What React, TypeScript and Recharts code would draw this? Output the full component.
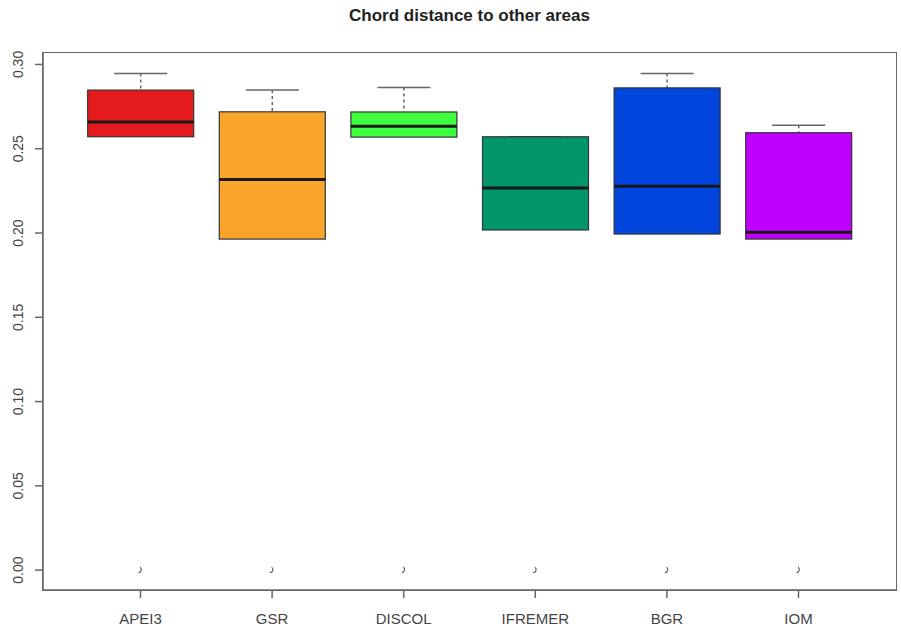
import * as React from 'react';
import {
  Bar,
  ComposedChart,
  Scatter,
  XAxis,
  YAxis,
} from 'recharts';

const categories = ['APEI3', 'GSR', 'DISCOL', 'IFREMER', 'BGR', 'IOM'];
const lowerWhisker = [0.2571, 0.1964, 0.2569, 0.2018, 0.1994, 0.1964];
const q1 = [0.2571, 0.1964, 0.2569, 0.2018, 0.1994, 0.1964];
const median = [0.2658, 0.2318, 0.2634, 0.2267, 0.2277, 0.2004];
const q3 = [0.2848, 0.2719, 0.2718, 0.2571, 0.2861, 0.2595];
const upperWhisker = [0.2947, 0.2848, 0.2864, 0.2571, 0.2947, 0.264];
const outliers = [0, 0, 0, 0, 0, 0];
const boxColors = ['#e41a1c', '#f9a42c', '#3dff3d', '#00966a', '#0046dc', '#c000ff'];
const yTicks = [0, 0.05, 0.1, 0.15, 0.2, 0.25, 0.3];

const FONT = '"Liberation Sans", Arial, Helvetica, sans-serif';
const AXIS = '#666';

const data = categories.map((name, i) => ({
  name,
  lower: lowerWhisker[i],
  q1: q1[i],
  median: median[i],
  q3: q3[i],
  upper: upperWhisker[i],
  outlier: outliers[i],
  color: boxColors[i],
}));

function BoxShape(props: any) {
  const { x, y, width, height, payload } = props;
  if (height == null || !payload) return null;
  const span = payload.q3 - payload.q1;
  const ppu = span > 0 ? height / span : 0;
  const cx = x + width / 2;
  const capHalf = width / 4;
  const medY = y + (payload.q3 - payload.median) * ppu;
  const topY = y - (payload.upper - payload.q3) * ppu;
  const botY = y + height + (payload.q1 - payload.lower) * ppu;
  return (
    <g>
      {topY < y && (
        <line x1={cx} x2={cx} y1={topY} y2={y} stroke={AXIS} strokeWidth={1.5} strokeDasharray="3 3" />
      )}
      <line x1={cx - capHalf} x2={cx + capHalf} y1={topY} y2={topY} stroke={AXIS} strokeWidth={1.5} />
      {botY > y + height && (
        <>
          <line x1={cx} x2={cx} y1={y + height} y2={botY} stroke={AXIS} strokeWidth={1.5} strokeDasharray="3 3" />
          <line x1={cx - capHalf} x2={cx + capHalf} y1={botY} y2={botY} stroke={AXIS} strokeWidth={1.5} />
        </>
      )}
      <rect x={x} y={y} width={width} height={height} fill={payload.color} stroke="#333" strokeWidth={1.2} />
      <line x1={x} x2={x + width} y1={medY} y2={medY} stroke="#1a1a1a" strokeWidth={3} />
    </g>
  );
}

function OutlierShape(props: any) {
  const { cx, cy } = props;
  if (cx == null || cy == null) return null;
  return (
    <path
      d={`M ${cx - 0.5} ${cy - 3} A 3 3 0 0 1 ${cx - 2} ${cy + 2.5}`}
      fill="none"
      stroke="#555"
      strokeWidth={1.1}
    />
  );
}

function YTick(props: any) {
  const { x, y, payload } = props;
  const px = x - 10;
  return (
    <text
      x={px}
      y={y}
      transform={`rotate(-90 ${px} ${y})`}
      textAnchor="middle"
      fontFamily={FONT}
      fontSize={14}
      fill="#444"
    >
      {Number(payload.value).toFixed(2)}
    </text>
  );
}

function XTick(props: any) {
  const { x, payload } = props;
  return (
    <text x={x} y={624} textAnchor="middle" fontFamily={FONT} fontSize={15} fill="#444">
      {payload.value}
    </text>
  );
}

export default function App() {
  return (
    <div style={{ position: 'absolute', left: 0, top: 0, width: 901, height: 632, background: '#fff' }}>
      <div
        style={{
          position: 'absolute',
          left: 43,
          width: 853,
          top: 6,
          textAlign: 'center',
          fontFamily: FONT,
          fontWeight: 'bold',
          fontSize: 17,
          color: '#222',
        }}
      >
        Chord distance to other areas
      </div>
      <ComposedChart
        width={901}
        height={632}
        data={data}
        margin={{ top: 53, right: 5, bottom: 0, left: 0 }}
      >
        <XAxis
          dataKey="name"
          type="category"
          padding={{ left: 31.7, right: 31.7 }}
          height={42}
          tickSize={8}
          tick={<XTick />}
          stroke={AXIS}
          strokeWidth={1.5}
          interval={0}
        />
        <YAxis
          type="number"
          domain={[-0.0118, 0.3068]}
          ticks={yTicks}
          allowDataOverflow
          width={43}
          tickSize={8}
          tick={<YTick />}
          stroke={AXIS}
          strokeWidth={1.5}
        />
        <Bar
          dataKey={(d: any) => [d.q1, d.q3]}
          barSize={106}
          shape={<BoxShape />}
          isAnimationActive={false}
        />
        <Scatter dataKey="outlier" shape={<OutlierShape />} isAnimationActive={false} />
      </ComposedChart>
      {/* plot frame, like R's bty="o" */}
      <div
        style={{
          position: 'absolute',
          left: 42.25,
          top: 52.25,
          width: 854.5,
          height: 538.5,
          border: `1.5px solid ${AXIS}`,
          boxSizing: 'border-box',
          pointerEvents: 'none',
        }}
      />
    </div>
  );
}
